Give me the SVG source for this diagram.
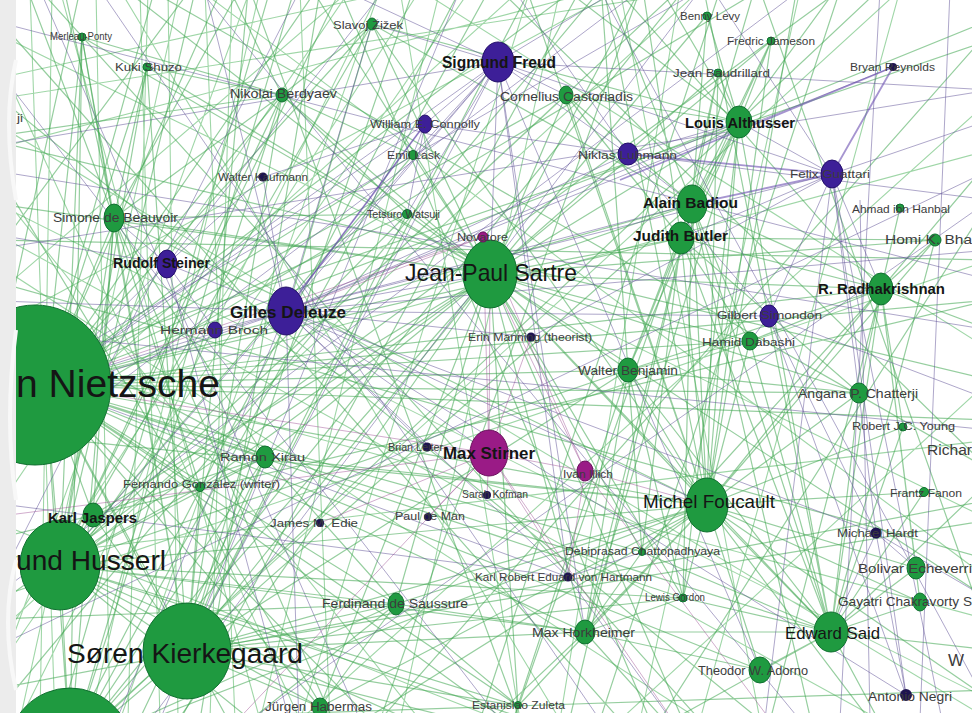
<svg xmlns="http://www.w3.org/2000/svg" width="972" height="713" viewBox="0 0 972 713">
<style>
.e1{fill:none;stroke:#3fa650;stroke-opacity:.55;stroke-width:1.2}
.e3{fill:none;stroke:#6cc078;stroke-opacity:.65;stroke-width:1.1}
.e2{fill:none;stroke:#5e4f96;stroke-opacity:.5;stroke-width:1}
.e2b{fill:none;stroke:#6a4fb0;stroke-opacity:.6;stroke-width:1.8}
.e4{fill:none;stroke:#9a4a90;stroke-opacity:.45;stroke-width:1}
.gn{fill:#1f9a40;stroke:#107030;stroke-width:1}
.pn{fill:#3d1f98;stroke:#24106a;stroke-width:1}
.mn{fill:#9a1b86;stroke:#6a0f5c;stroke-width:1}
.dn{fill:#1e1450}
text{font-family:"Liberation Sans",Arial,sans-serif}
.s{fill:#3c3c3c}
.b{fill:#151515;font-weight:bold}
.r{fill:#151515}
</style>
<rect x="0" y="0" width="972" height="713" fill="#ffffff"/>
<g id="connectors">
<path class="e3" d="M30 -10L55 720M52 -10L40 720M140 -10L160 720M148 -10L128 720M168 -10L178 720M205 -10L235 720M232 -10L210 720M300 -10L330 720M96 -10L110 720M-10 80L400 -10M-10 150L600 -10M-10 300L350 -10M-10 470L520 -10M-10 640L700 -10M-10 700L250 -10M100 720L900 -10M300 720L990 100M-10 30L990 520M-10 120L990 720M-10 260L700 720M-10 520L500 720M200 -10L990 580M420 -10L990 350M560 -10L400 720M680 -10L560 720M800 -10L640 720M-10 600L990 260M-10 420L990 150M-10 560L990 440M120 -10L560 720M380 -10L120 720M440 -10L260 720M620 720L990 380M900 -10L700 720M-10 350L990 620M-10 200L990 700M60 -10L260 720M180 -10L20 720M260 -10L90 720M-10 40L300 720M-10 180L420 720M350 -10L-10 520M470 -10L-10 680M20 720L380 -10M-10 100L700 -10M-10 660L420 -10M-10 330L620 -10M400 -10L520 720M530 -10L300 720M620 -10L760 720M-10 230L880 720"/>
<path class="e1" d="M-10 10L620 720M-10 90L760 720M-10 160L330 720M40 -10L700 720M80 -10L-10 400M190 -10L-10 260M250 -10L520 720M270 -10L60 720M320 -10L200 720M340 -10L650 720M460 -10L80 720M500 -10L990 470M580 -10L180 720M640 -10L380 720M720 -10L480 720M760 -10L990 640M840 -10L600 720M-10 380L990 40M-10 450L760 -10M-10 540L990 300M-10 610L840 -10M-10 690L990 500M-10 720L600 -10M100 720L990 690M380 720L990 30M660 720L990 200M-10 240L990 260M-10 280L990 560M-10 140L990 380M150 -10L990 470"/>
<path class="e1" d="M45 385L490 274M45 385L707 505M45 385L187 651M45 385L60 565M45 385L115 218M45 385L282 95M45 385L147 67M45 385L82 37M45 385L265 457M45 385L200 487M45 385L93 515M45 385L396 604M45 385L585 632M45 385L628 370M45 385L372 24M45 385L407 214M45 385L413 155M45 385L566 95M45 385L692 204M45 385L681 238M45 385L683 598M45 385L642 552M45 385L831 632M45 385L760 670M45 385L320 707M45 385L518 706M45 385L750 341M45 385L739 122M45 385L230 -30M45 385L330 -30M45 385L160 -30M45 385L600 -30M45 385L400 750M45 385L250 760M45 385L560 760M45 385L990 420M45 385L990 300M45 385L881 289M45 385L859 393"/>
<path class="e1" d="M490 274L692 204M490 274L681 238M490 274L739 122M490 274L566 95M490 274L707 505M490 274L628 370M490 274L750 341M490 274L881 289M490 274L372 24M490 274L282 95M490 274L114 218M490 274L187 651M490 274L60 565M490 274L396 604M490 274L585 632M490 274L683 598M490 274L642 552M490 274L831 632M490 274L859 393M490 274L935 240M490 274L707 15M490 274L718 73M490 274L771 41M490 274L518 706M490 274L320 707M490 274L147 67M490 274L82 37M490 274L407 214M490 274L413 155M490 274L300 -30M490 274L650 -30M490 274L100 -30M490 274L990 600M490 274L700 760M490 274L150 760M490 274L-30 200M490 274L265 457M490 274L200 487M490 274L93 515"/>
<path class="e1" d="M707 505L692 204M707 505L681 238M707 505L739 122M707 505L831 632M707 505L760 670M707 505L585 632M707 505L683 598M707 505L642 552M707 505L628 370M707 505L750 341M707 505L859 393M707 505L903 427M707 505L924 492M707 505L916 568M707 505L920 602M707 505L881 289M707 505L935 240M707 505L396 604M707 505L320 707M707 505L518 706M707 505L187 651M707 505L60 565M707 505L372 24M707 505L718 73M707 505L771 41M707 505L566 95M707 505L600 -30M707 505L800 -30M707 505L990 700M707 505L300 760M707 505L900 760M707 505L520 -30M707 505L-30 430M707 505L265 457M707 505L114 218"/>
<path class="e1" d="M60 565L187 651M60 565L93 515M60 565L396 604M60 565L265 457M60 565L200 487M60 565L407 214M60 565L413 155M60 565L282 95M60 565L114 218M60 565L82 37M60 565L147 67M60 565L320 707M60 565L518 706M60 565L585 632M60 565L566 95M60 565L372 24M60 565L200 -30M60 565L350 -30M60 565L500 760M60 565L300 760M60 565L700 -30M60 565L650 760M60 565L628 370M60 565L683 598"/>
<path class="e1" d="M187 651L93 515M187 651L282 95M187 651L396 604M187 651L320 707M187 651L518 706M187 651L585 632M187 651L114 218M187 651L147 67M187 651L82 37M187 651L407 214M187 651L265 457M187 651L200 487M187 651L683 598M187 651L692 204M187 651L250 -30M187 651L420 -30M187 651L620 760M187 651L540 -30M187 651L990 520M187 651L372 24M187 651L628 370"/>
<path class="e1" d="M70 750L60 565M70 750L187 651M70 750L490 274M70 750L707 505M70 750L114 218M70 750L282 95M70 750L82 37M70 750L300 -30M70 750L500 -30M70 750L700 -30M70 750L900 -30M70 750L396 604M70 750L265 457M70 750L45 385"/>
<path class="e1" d="M831 632L920 602M831 632L916 568M831 632L924 492M831 632L935 240M831 632L881 289M831 632L859 393M831 632L903 427M831 632L750 341M831 632L760 670M831 632L683 598M831 632L692 204M831 632L681 238M831 632L628 370M831 632L585 632M831 632L990 650M831 632L900 760M831 632L990 480M831 632L700 -30M831 632L600 760M831 632L739 122M831 632L642 552"/>
<path class="e1" d="M881 289L935 240M881 289L859 393M881 289L903 427M881 289L750 341M881 289L920 602M881 289L916 568M881 289L628 370M881 289L681 238M881 289L692 204M881 289L900 208M881 289L990 330M881 289L760 760M881 289L600 -30M881 289L990 160M881 289L642 552"/>
<path class="e1" d="M739 122L718 73M739 122L771 41M739 122L707 15M739 122L692 204M739 122L681 238M739 122L566 95M739 122L372 24M739 122L628 370M739 122L650 -30M739 122L850 -30M739 122L540 -30M739 122L990 20M739 122L585 632M739 122L683 598"/>
<path class="e1" d="M692 204L566 95M692 204L718 73M692 204L771 41M692 204L707 15M692 204L372 24M692 204L628 370M692 204L683 598M692 204L585 632M692 204L750 341M692 204L600 -30M692 204L760 -30M692 204L560 760M692 204L820 760M681 238L566 95M681 238L718 73M681 238L771 41M681 238L628 370M681 238L750 341M681 238L642 552M681 238L859 393M681 238L935 240M681 238L500 760M681 238L640 -30"/>
<path class="e1" d="M114 218L147 67M114 218L82 37M114 218L282 95M114 218L407 214M114 218L265 457M114 218L200 487M114 218L93 515M114 218L60 -30M114 218L250 -30M114 218L20 -30M114 218L350 760M282 95L82 37M282 95L147 67M282 95L407 214M282 95L413 155M282 95L372 24M282 95L220 -30M282 95L-30 140M265 457L200 487M265 457L93 515M265 457L396 604M265 457L120 760M265 457L-30 300M585 632L396 604M585 632L683 598M585 632L642 552M585 632L760 670M585 632L628 370M585 632L450 760M585 632L700 760M628 370L750 341M628 370L683 598M628 370L642 552M628 370L859 393M628 370L600 -30M628 370L500 760M396 604L320 707M396 604L518 706M396 604L200 760M396 604L-30 620"/>
<path class="e2" d="M-10 250L990 90M-10 330L990 430M100 -10L600 720M700 -10L150 720M-10 600L800 -10M250 720L990 200M880 -10L840 720M860 200L870 720M950 -10L920 720M-10 60L500 720M-10 480L640 -10M160 720L460 -10M40 -10L360 720M-10 170L990 330M-10 400L700 -10M200 -10L800 720M-10 650L990 170M300 -10L-10 600M600 -10L990 710M-10 20L990 280"/>
<path class="e2" d="M286 311L832 174M286 311L498 62M286 311L167 264M286 311L215 330M286 311L263 177M286 311L425 124M286 311L628 154M286 311L769 316M286 311L490 274M286 311L45 385M286 311L489 453M286 311L427 447M286 311L531 337M286 311L568 577M286 311L876 533M286 311L906 695M286 311L372 24M286 311L739 122M286 311L692 204M286 311L707 505M286 311L-30 300M286 311L-30 420M286 311L100 760M286 311L300 760M286 311L200 -30M286 311L990 250M286 311L893 67"/>
<path class="e2" d="M498 62L425 124M498 62L628 154M498 62L413 155M498 62L490 274M498 62L45 385M498 62L566 95M498 62L372 24M498 62L568 577M498 62L585 632M498 62L760 670M498 62L832 174M498 62L300 -30M498 62L650 -30M498 62L-30 150M498 62L990 90M498 62L407 214M498 62L187 651M498 62L60 565"/>
<path class="e2" d="M832 174L769 316M832 174L876 533M832 174L906 695M832 174L739 122M832 174L881 289M832 174L681 238M832 174L990 120M832 174L760 760M832 174L950 760M832 174L700 -30M832 174L531 337M628 154L769 316M628 154L425 124M628 154L692 204M628 154L739 122M628 154L500 -30M628 154L990 200M167 264L45 385M167 264L114 218M167 264L263 177M167 264L215 330M167 264L-30 230M167 264L400 -30M167 264L300 760M876 533L906 695M876 533L769 316M876 533L916 568M876 533L990 600M876 533L831 632M769 316L906 695M769 316L750 341M769 316L990 400M425 124L413 155M425 124L407 214M425 124L45 385M425 124L263 177M568 577L642 552M568 577L45 385M568 577L-30 500M568 577L700 760"/>
<path class="e2b" d="M832 174L893 67M832 174L628 154M832 174L692 204M893 67L620 180M286 311L425 124"/>
<path class="e4" d="M489 453L45 385M489 453L427 447M489 453L487 495M489 453L585 471M489 453L483 237M489 453L428 517M489 453L490 274M489 453L531 337M489 453L568 577M489 453L320 523M489 453L200 760M489 453L-30 520M489 453L700 760M585 471L707 505M585 471L483 237M585 471L490 274M585 471L568 577M585 471L800 760M483 237L286 311M483 237L45 385"/>
</g>
<g id="n-nietzsche"><ellipse class="gn" cx="35" cy="385" rx="76" ry="80"/><text class="r" x="16" y="397" font-size="39" textLength="204" lengthAdjust="spacingAndGlyphs">n Nietzsche</text></g>
<g id="n-bottom"><ellipse class="gn" cx="70" cy="750" rx="62" ry="62"/></g>
<g id="n-husserl"><ellipse class="gn" cx="60" cy="565" rx="40" ry="45"/><text class="r" x="16" y="570" font-size="28" textLength="150" lengthAdjust="spacingAndGlyphs">und Husserl</text></g>
<g id="n-kierkegaard"><ellipse class="gn" cx="187" cy="651" rx="44" ry="48"/><text class="r" x="67" y="663" font-size="27" textLength="236" lengthAdjust="spacingAndGlyphs">Søren Kierkegaard</text></g>
<g id="n-sartre"><ellipse class="gn" cx="490" cy="274" rx="27" ry="34"/><text class="r" x="405" y="281" font-size="24" textLength="172" lengthAdjust="spacingAndGlyphs">Jean-Paul Sartre</text></g>
<g id="n-foucault"><ellipse class="gn" cx="707" cy="505" rx="21" ry="27"/><text class="r" x="643" y="508" font-size="19" textLength="132" lengthAdjust="spacingAndGlyphs">Michel Foucault</text></g>
<g id="n-said"><ellipse class="gn" cx="831" cy="632" rx="17" ry="20"/><text class="r" x="785" y="639" font-size="17" textLength="95" lengthAdjust="spacingAndGlyphs">Edward Said</text></g>
<g id="n-freud"><ellipse class="pn" cx="498" cy="62" rx="16" ry="20"/><text class="b" x="442" y="68" font-size="16" textLength="114" lengthAdjust="spacingAndGlyphs">Sigmund Freud</text></g>
<g id="n-deleuze"><ellipse class="pn" cx="286" cy="311" rx="18" ry="24"/><text class="b" x="230" y="318" font-size="17" textLength="116" lengthAdjust="spacingAndGlyphs">Gilles Deleuze</text></g>
<g id="n-brian"><circle class="dn" cx="427" cy="447" r="4.5"/><text class="s" x="388" y="451" font-size="10.5" textLength="55" lengthAdjust="spacingAndGlyphs">Brian Leiter</text></g>
<g id="n-stirner"><ellipse class="mn" cx="489" cy="453" rx="19" ry="23"/><text class="b" x="443" y="459" font-size="17" textLength="92" lengthAdjust="spacingAndGlyphs">Max Stirner</text></g>
<g id="n-jaspers"><ellipse class="gn" cx="93" cy="515" rx="10" ry="12"/><text class="b" x="48" y="523" font-size="15" textLength="89" lengthAdjust="spacingAndGlyphs">Karl Jaspers</text></g>
<g id="n-merleau"><circle class="gn" cx="82" cy="37" r="4"/><text class="s" x="50" y="40" font-size="11" textLength="62" lengthAdjust="spacingAndGlyphs">Merleau-Ponty</text></g>
<g id="n-kuki"><circle class="gn" cx="147" cy="67" r="4"/><text class="s" x="115" y="71" font-size="11" textLength="67" lengthAdjust="spacingAndGlyphs">Kuki Shuzo</text></g>
<g id="n-berdyaev"><ellipse class="gn" cx="282" cy="95" rx="6" ry="7"/><text class="s" x="230" y="98" font-size="12" textLength="107" lengthAdjust="spacingAndGlyphs">Nikolai Berdyaev</text></g>
<g id="n-zizek"><ellipse class="gn" cx="372" cy="24" rx="5" ry="6"/><text class="s" x="333" y="29" font-size="11" textLength="70" lengthAdjust="spacingAndGlyphs">Slavoj Žižek</text></g>
<g id="n-castoriadis"><ellipse class="gn" cx="566" cy="95" rx="7" ry="9"/><text class="s" x="500" y="101" font-size="12.5" textLength="133" lengthAdjust="spacingAndGlyphs">Cornelius Castoriadis</text></g>
<g id="n-connolly"><ellipse class="pn" cx="425" cy="124" rx="7" ry="9"/><text class="s" x="370" y="128" font-size="11.5" textLength="110" lengthAdjust="spacingAndGlyphs">William E. Connolly</text></g>
<g id="n-lask"><circle class="gn" cx="413" cy="155" r="4.5"/><text class="s" x="387" y="159" font-size="11" textLength="53" lengthAdjust="spacingAndGlyphs">Emil Lask</text></g>
<g id="n-watsuji"><circle class="gn" cx="407" cy="214" r="4.5"/><text class="s" x="367" y="218" font-size="10.5" textLength="73" lengthAdjust="spacingAndGlyphs">Tetsuro Watsuji</text></g>
<g id="n-kaufmann"><circle class="dn" cx="263" cy="177" r="4.5"/><text class="s" x="218" y="181" font-size="11" textLength="90" lengthAdjust="spacingAndGlyphs">Walter Kaufmann</text></g>
<g id="n-beauvoir"><ellipse class="gn" cx="114" cy="218" rx="10" ry="14"/><text class="s" x="53" y="222" font-size="12" textLength="125" lengthAdjust="spacingAndGlyphs">Simone de Beauvoir</text></g>
<g id="n-steiner"><ellipse class="pn" cx="167" cy="264" rx="10" ry="14"/><text class="b" x="113" y="268" font-size="14" textLength="97" lengthAdjust="spacingAndGlyphs">Rudolf Steiner</text></g>
<g id="n-hermann"><ellipse class="pn" cx="215" cy="330" rx="7" ry="8"/><text class="s" x="160" y="334" font-size="11" textLength="108" lengthAdjust="spacingAndGlyphs">Hermann Broch</text></g>
<g id="n-novatore"><circle class="mn" cx="483" cy="237" r="5"/><text class="s" x="457" y="241" font-size="10.5" textLength="51" lengthAdjust="spacingAndGlyphs">Novatore</text></g>
<g id="n-erin"><circle class="dn" cx="531" cy="337" r="4.5"/><text class="s" x="468" y="341" font-size="11" textLength="124" lengthAdjust="spacingAndGlyphs">Erin Manning (theorist)</text></g>
<g id="n-levy"><circle class="gn" cx="707" cy="16" r="4"/><text class="s" x="680" y="20" font-size="10.5" textLength="60" lengthAdjust="spacingAndGlyphs">Benny Levy</text></g>
<g id="n-jameson"><circle class="gn" cx="771" cy="41" r="4"/><text class="s" x="727" y="45" font-size="11" textLength="88" lengthAdjust="spacingAndGlyphs">Fredric Jameson</text></g>
<g id="n-baudrillard"><circle class="gn" cx="718" cy="73" r="4"/><text class="s" x="673" y="77" font-size="11" textLength="97" lengthAdjust="spacingAndGlyphs">Jean Baudrillard</text></g>
<g id="n-reynolds"><circle class="dn" cx="893" cy="67" r="4"/><text class="s" x="850" y="71" font-size="11" textLength="85" lengthAdjust="spacingAndGlyphs">Bryan Reynolds</text></g>
<g id="n-althusser"><ellipse class="gn" cx="739" cy="122" rx="13" ry="16"/><text class="b" x="685" y="128" font-size="15" textLength="110" lengthAdjust="spacingAndGlyphs">Louis Althusser</text></g>
<g id="n-luhmann"><ellipse class="pn" cx="628" cy="154" rx="10" ry="11"/><text class="s" x="578" y="159" font-size="11.5" textLength="99" lengthAdjust="spacingAndGlyphs">Niklas Luhmann</text></g>
<g id="n-guattari"><ellipse class="pn" cx="832" cy="174" rx="11" ry="14"/><text class="s" x="790" y="178" font-size="11.5" textLength="80" lengthAdjust="spacingAndGlyphs">Felix Guattari</text></g>
<g id="n-hanbal"><circle class="gn" cx="900" cy="208" r="4"/><text class="s" x="852" y="213" font-size="10.5" textLength="98" lengthAdjust="spacingAndGlyphs">Ahmad ibn Hanbal</text></g>
<g id="n-badiou"><ellipse class="gn" cx="692" cy="204" rx="15" ry="19"/><text class="b" x="643" y="208" font-size="15.5" textLength="95" lengthAdjust="spacingAndGlyphs">Alain Badiou</text></g>
<g id="n-butler"><ellipse class="gn" cx="681" cy="238" rx="13" ry="16"/><text class="b" x="633" y="241" font-size="15.5" textLength="95" lengthAdjust="spacingAndGlyphs">Judith Butler</text></g>
<g id="n-bhabha"><circle class="gn" cx="935" cy="240" r="6"/><text class="s" x="885" y="244" font-size="12" textLength="87" lengthAdjust="spacingAndGlyphs">Homi K. Bha</text></g>
<g id="n-radhakrishnan"><ellipse class="gn" cx="881" cy="289" rx="12" ry="16"/><text class="b" x="818" y="294" font-size="15" textLength="127" lengthAdjust="spacingAndGlyphs">R. Radhakrishnan</text></g>
<g id="n-simondon"><ellipse class="pn" cx="769" cy="316" rx="9" ry="11"/><text class="s" x="717" y="319" font-size="11.5" textLength="105" lengthAdjust="spacingAndGlyphs">Gilbert Simondon</text></g>
<g id="n-dabashi"><ellipse class="gn" cx="750" cy="341" rx="8" ry="9"/><text class="s" x="702" y="346" font-size="11.5" textLength="93" lengthAdjust="spacingAndGlyphs">Hamid Dabashi</text></g>
<g id="n-benjamin"><ellipse class="gn" cx="628" cy="370" rx="10" ry="12"/><text class="s" x="578" y="375" font-size="12" textLength="100" lengthAdjust="spacingAndGlyphs">Walter Benjamin</text></g>
<g id="n-chatterji"><ellipse class="gn" cx="859" cy="393" rx="9" ry="10"/><text class="s" x="798" y="398" font-size="12" textLength="120" lengthAdjust="spacingAndGlyphs">Angana P. Chatterji</text></g>
<g id="n-young"><circle class="gn" cx="903" cy="427" r="4"/><text class="s" x="852" y="430" font-size="11.5" textLength="103" lengthAdjust="spacingAndGlyphs">Robert J.C. Young</text></g>
<g id="n-richard"><text class="s" x="927" y="455" font-size="14" textLength="45" lengthAdjust="spacingAndGlyphs">Richar</text></g>
<g id="n-ji"><text class="s" x="17" y="122" font-size="11" textLength="6" lengthAdjust="spacingAndGlyphs">ji</text></g>
<g id="n-illich"><ellipse class="mn" cx="585" cy="471" rx="8" ry="10"/><text class="s" x="563" y="478" font-size="11" textLength="50" lengthAdjust="spacingAndGlyphs">Ivan Illich</text></g>
<g id="n-kofman"><circle class="dn" cx="487" cy="495" r="4"/><text class="s" x="462" y="498" font-size="10.5" textLength="66" lengthAdjust="spacingAndGlyphs">Sarah Kofman</text></g>
<g id="n-deman"><circle class="dn" cx="428" cy="517" r="4"/><text class="s" x="395" y="520" font-size="10.5" textLength="70" lengthAdjust="spacingAndGlyphs">Paul de Man</text></g>
<g id="n-edie"><circle class="dn" cx="320" cy="523" r="4"/><text class="s" x="270" y="527" font-size="10.5" textLength="88" lengthAdjust="spacingAndGlyphs">James M. Edie</text></g>
<g id="n-xirau"><ellipse class="gn" cx="265" cy="457" rx="9" ry="11"/><text class="s" x="220" y="461" font-size="11.5" textLength="85" lengthAdjust="spacingAndGlyphs">Ramon Xirau</text></g>
<g id="n-gonzalez"><circle class="gn" cx="200" cy="487" r="4.5"/><text class="s" x="123" y="488" font-size="11.5" textLength="157" lengthAdjust="spacingAndGlyphs">Fernando González (writer)</text></g>
<g id="n-fanon"><circle class="gn" cx="924" cy="492" r="4.5"/><text class="s" x="890" y="497" font-size="11" textLength="72" lengthAdjust="spacingAndGlyphs">Frantz Fanon</text></g>
<g id="n-hardt"><circle class="dn" cx="876" cy="533" r="5.5"/><text class="s" x="837" y="537" font-size="11.5" textLength="81" lengthAdjust="spacingAndGlyphs">Michael Hardt</text></g>
<g id="n-chattopadhyaya"><circle class="gn" cx="642" cy="552" r="3.5"/><text class="s" x="565" y="555" font-size="11.5" textLength="155" lengthAdjust="spacingAndGlyphs">Debiprasad Chattopadhyaya</text></g>
<g id="n-echeverria"><ellipse class="gn" cx="916" cy="568" rx="9" ry="11"/><text class="s" x="858" y="573" font-size="13" textLength="114" lengthAdjust="spacingAndGlyphs">Bolivar Echeverri</text></g>
<g id="n-hartmann"><circle class="dn" cx="568" cy="577" r="4.5"/><text class="s" x="475" y="581" font-size="11.5" textLength="177" lengthAdjust="spacingAndGlyphs">Karl Robert Eduard von Hartmann</text></g>
<g id="n-gordon"><circle class="gn" cx="683" cy="598" r="4"/><text class="s" x="645" y="601" font-size="11" textLength="60" lengthAdjust="spacingAndGlyphs">Lewis Gordon</text></g>
<g id="n-spivak"><ellipse class="gn" cx="920" cy="602" rx="7" ry="9"/><text class="s" x="838" y="606" font-size="13" textLength="134" lengthAdjust="spacingAndGlyphs">Gayatri Chakravorty S</text></g>
<g id="n-saussure"><ellipse class="gn" cx="396" cy="604" rx="8" ry="11"/><text class="s" x="322" y="608" font-size="13" textLength="146" lengthAdjust="spacingAndGlyphs">Ferdinand de Saussure</text></g>
<g id="n-horkheimer"><ellipse class="gn" cx="585" cy="632" rx="10" ry="12"/><text class="s" x="532" y="637" font-size="13" textLength="103" lengthAdjust="spacingAndGlyphs">Max Horkheimer</text></g>
<g id="n-w"><text class="s" x="948" y="666" font-size="16" textLength="16" lengthAdjust="spacingAndGlyphs">W</text></g>
<g id="n-adorno"><ellipse class="gn" cx="760" cy="670" rx="11" ry="13"/><text class="s" x="698" y="675" font-size="12" textLength="110" lengthAdjust="spacingAndGlyphs">Theodor W. Adorno</text></g>
<g id="n-negri"><circle class="dn" cx="906" cy="695" r="6"/><text class="s" x="868" y="701" font-size="12" textLength="84" lengthAdjust="spacingAndGlyphs">Antonio Negri</text></g>
<g id="n-zuleta"><circle class="gn" cx="518" cy="705" r="3.5"/><text class="s" x="472" y="709" font-size="11.5" textLength="93" lengthAdjust="spacingAndGlyphs">Estanislao Zuleta</text></g>
<g id="n-habermas"><ellipse class="gn" cx="320" cy="707" rx="8" ry="9"/><text class="s" x="265" y="711" font-size="12" textLength="107" lengthAdjust="spacingAndGlyphs">Jürgen Habermas</text></g>
<g id="frame"><rect x="0" y="0" width="16" height="713" fill="#ececec"/><path d="M16 60Q2 120 16 200M16 330Q4 420 16 500M16 560Q0 620 16 690" fill="none" stroke="#f8f8f8" stroke-width="4"/></g>
</svg>
